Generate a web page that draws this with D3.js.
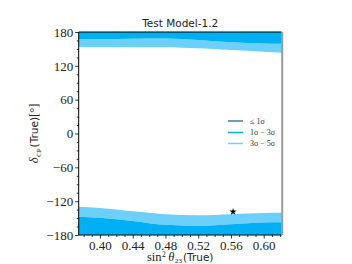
<!DOCTYPE html>
<html><head><meta charset="utf-8">
<script src="https://cdn.jsdelivr.net/npm/d3@7"></script>
<style>body{margin:0;background:#fff}svg{display:block}</style>
</head><body>
<script>
const xs = [0.374, 0.40, 0.44, 0.48, 0.52, 0.56, 0.60, 0.622];
const upperDarkEdge = [167, 167, 168, 168.5, 166, 162, 159.5, 159];
const upperLightEdge = [154, 153, 153, 153, 151, 148, 145, 143];
const lowerLightEdge = [-130, -132, -138, -143, -145, -143, -141, -140.5];
const lowerDarkEdge = [-147.6, -149.3, -155, -162, -164, -161, -158, -157.5];
const bestFit = [{x: 0.5626, y: -138.7}];
const xTicks = [0.40, 0.44, 0.48, 0.52, 0.56, 0.60];
const yTicks = [-180, -120, -60, 0, 60, 120, 180];
const legendLabels = ["≤ 1σ", "1σ − 3σ", "3σ − 5σ"];
const legendColors = ["#3b7ea6", "#00b0f2", "#6dd0fa"];

const SERIF = "Liberation Serif";
const SANS = "DejaVu Sans";
const W = 352, H = 264;
const m = {l: 78.7, r: 281.7, t: 32, b: 235};
const svg = d3.select("body").append("svg").attr("width", W).attr("height", H);
const x = d3.scaleLinear().domain([0.374, 0.622]).range([m.l, m.r]);
const y = d3.scaleLinear().domain([-180, 180]).range([m.b, m.t]);

const area = d3.area().x(d => x(d.x)).curve(d3.curveMonotoneX);
function band(lo, hi, color) {
  const data = xs.map((v, i) => ({x: v, lo: typeof lo === "number" ? lo : lo[i], hi: typeof hi === "number" ? hi : hi[i]}));
  svg.append("path").datum(data)
    .attr("d", area.y0(d => y(d.lo)).y1(d => y(d.hi)))
    .attr("fill", color);
}
band(upperLightEdge, upperDarkEdge, legendColors[2]);
band(upperDarkEdge, 180, legendColors[1]);
band(lowerDarkEdge, lowerLightEdge, legendColors[2]);
band(-180, lowerDarkEdge, legendColors[1]);

svg.selectAll(".star").data(bestFit).enter().append("path")
  .attr("d", d3.symbol().type(d3.symbolStar).size(16))
  .attr("transform", d => `translate(${x(d.x)},${y(d.y)})`)
  .attr("fill", "#000");

const xAxis = d3.axisBottom(x).tickValues(xTicks).tickFormat(d3.format(".2f")).tickSize(3.5).tickPadding(2);
svg.append("g").attr("transform", `translate(0,${m.b})`).call(xAxis);
const xMinor = d3.range(0.38, 0.6201, 0.01).filter(v => !xTicks.some(t => Math.abs(t - v) < 1e-6));
svg.append("g").attr("transform", `translate(0,${m.b})`).call(d3.axisBottom(x).tickValues(xMinor).tickSize(2).tickFormat(""));
const yAxis = d3.axisLeft(y).tickValues(yTicks).tickFormat(d => d < 0 ? "−" + Math.abs(d) : d).tickSize(3.5).tickPadding(2);
svg.append("g").attr("transform", `translate(${m.l},0)`).call(yAxis);
const yMinor = d3.range(-165, 180, 15).filter(v => v % 60 !== 0);
svg.append("g").attr("transform", `translate(${m.l},0)`).call(d3.axisLeft(y).tickValues(yMinor).tickSize(2).tickFormat(""));
svg.selectAll("g .domain").remove();
svg.selectAll("g text").attr("font-family", SERIF).attr("font-size", 13).attr("fill", "#222");
svg.selectAll("g line").attr("stroke", "#000").attr("stroke-width", 0.8);

svg.append("line").attr("x1", m.l).attr("x2", m.r).attr("y1", m.t).attr("y2", m.t).attr("stroke", "#000").attr("stroke-width", 1);
svg.append("line").attr("x1", m.l).attr("x2", m.r).attr("y1", m.b).attr("y2", m.b).attr("stroke", "#000").attr("stroke-width", 1);
svg.append("line").attr("x1", m.l).attr("x2", m.l).attr("y1", m.t).attr("y2", m.b).attr("stroke", "#000").attr("stroke-width", 1);
svg.append("line").attr("x1", m.r + 0.5).attr("x2", m.r + 0.5).attr("y1", m.t).attr("y2", m.b).attr("stroke", "#9a9a9a").attr("stroke-width", 2);

svg.append("text").attr("font-family", SANS).attr("x", (m.l + m.r) / 2).attr("y", 27).attr("text-anchor", "middle")
  .attr("font-size", 10.5).attr("fill", "#222").text("Test Model-1.2");

// x label
const xl = svg.append("text").attr("x", (m.l + m.r) / 2).attr("y", 260.5).attr("text-anchor", "middle")
  .attr("font-size", 12.5).attr("fill", "#222").attr("font-family", SERIF);
xl.append("tspan").text("sin");
xl.append("tspan").attr("font-size", 7.5).attr("dy", -4).attr("dx", 0.5).text("2");
xl.append("tspan").attr("font-style", "italic").attr("dy", 4).attr("dx", 2.5).text("θ");
xl.append("tspan").attr("font-size", 7).attr("dy", 2.5).attr("dx", 0.5).text("23");
xl.append("tspan").attr("font-family", SANS).attr("font-size", 10.5).attr("dy", -2.5).attr("dx", 1).text("(True)");

// y label
const yl = svg.append("text").attr("transform", `translate(38,${(m.t + m.b) / 2}) rotate(-90)`)
  .attr("text-anchor", "middle").attr("font-size", 12.5).attr("fill", "#222").attr("font-family", SERIF);
yl.append("tspan").attr("font-style", "italic").text("δ");
yl.append("tspan").attr("font-size", 7).attr("dy", 2.5).attr("dx", 0.5).text("CP");
yl.append("tspan").attr("font-family", SANS).attr("font-size", 10.5).attr("dy", -2.5).attr("dx", 1).text("(True)");
yl.append("tspan").text("[°]");

const lg = svg.append("g");
const lgY = [121, 132.5, 143.5];
legendLabels.forEach((t, i) => {
  lg.append("line").attr("x1", 228).attr("x2", 243).attr("y1", lgY[i]).attr("y2", lgY[i])
    .attr("stroke", legendColors[i]).attr("stroke-width", 1.5);
  lg.append("text").attr("font-family", SERIF).attr("x", 250).attr("y", lgY[i] + 2.8)
    .attr("font-size", 8).attr("fill", "#333").text(t);
});
</script>
</body></html>
